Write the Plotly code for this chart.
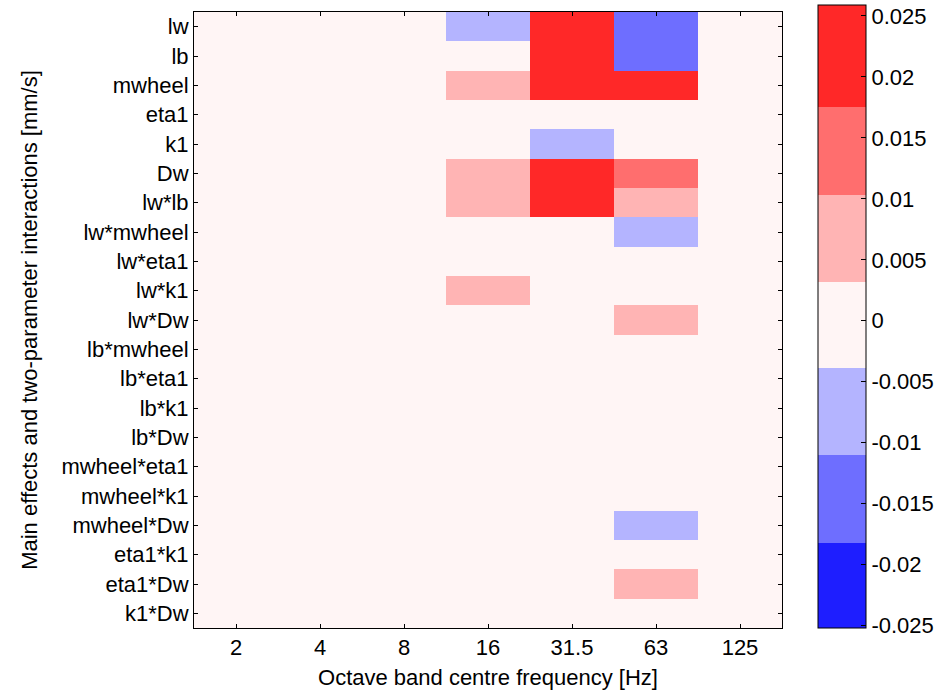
import plotly.graph_objects as go

freqs = ["2", "4", "8", "16", "31.5", "63", "125"]
params = ["lw", "lb", "mwheel", "eta1", "k1", "Dw", "lw*lb", "lw*mwheel", "lw*eta1",
          "lw*k1", "lw*Dw", "lb*mwheel", "lb*eta1", "lb*k1", "lb*Dw", "mwheel*eta1",
          "mwheel*k1", "mwheel*Dw", "eta1*k1", "eta1*Dw", "k1*Dw"]

# values [mm/s], rows = params, columns = freqs
values = [
    [0, 0, 0, -0.007, 0.021, -0.014, 0],   # lw
    [0, 0, 0, 0, 0.021, -0.014, 0],        # lb
    [0, 0, 0, 0.007, 0.021, 0.021, 0],     # mwheel
    [0, 0, 0, 0, 0, 0, 0],                 # eta1
    [0, 0, 0, 0, -0.007, 0, 0],            # k1
    [0, 0, 0, 0.007, 0.021, 0.014, 0],     # Dw
    [0, 0, 0, 0.007, 0.021, 0.007, 0],     # lw*lb
    [0, 0, 0, 0, 0, -0.007, 0],            # lw*mwheel
    [0, 0, 0, 0, 0, 0, 0],                 # lw*eta1
    [0, 0, 0, 0.007, 0, 0, 0],             # lw*k1
    [0, 0, 0, 0, 0, 0.007, 0],             # lw*Dw
    [0, 0, 0, 0, 0, 0, 0],                 # lb*mwheel
    [0, 0, 0, 0, 0, 0, 0],                 # lb*eta1
    [0, 0, 0, 0, 0, 0, 0],                 # lb*k1
    [0, 0, 0, 0, 0, 0, 0],                 # lb*Dw
    [0, 0, 0, 0, 0, 0, 0],                 # mwheel*eta1
    [0, 0, 0, 0, 0, 0, 0],                 # mwheel*k1
    [0, 0, 0, 0, 0, -0.007, 0],            # mwheel*Dw
    [0, 0, 0, 0, 0, 0, 0],                 # eta1*k1
    [0, 0, 0, 0, 0, 0.007, 0],             # eta1*Dw
    [0, 0, 0, 0, 0, 0, 0],                 # k1*Dw
]

level_colors = ["#1e1eff", "#6e6eff", "#b4b4ff", "#fff5f5", "#ffb4b4", "#ff6e6e", "#ff2828"]
level_edges = [-0.0182, -0.0110, -0.0039, 0.0032, 0.0103, 0.0175]
cbar_ticks = [-0.025, -0.02, -0.015, -0.01, -0.005, 0, 0.005, 0.01, 0.015, 0.02, 0.025]
cbar_ticktext = ["-0.025", "-0.02", "-0.015", "-0.01", "-0.005", "0", "0.005", "0.01", "0.015", "0.02", "0.025"]

zmin, zmax = -0.0252, 0.0259
bounds = [0.0] + [(e - zmin) / (zmax - zmin) for e in level_edges] + [1.0]
colorscale = []
for i, c in enumerate(level_colors):
    colorscale.append([bounds[i], c])
    colorscale.append([bounds[i + 1], c])

font = "Liberation Sans, Arial, sans-serif"
fs = 22
W, H = 944, 692

fig = go.Figure(go.Heatmap(
    x=freqs, y=params, z=values,
    zmin=zmin, zmax=zmax,
    colorscale=colorscale,
    xgap=0, ygap=0,
    colorbar=dict(
        tickvals=cbar_ticks, ticktext=cbar_ticktext,
        ticks="inside", ticklen=5, tickcolor="black",
        outlinecolor="black", outlinewidth=1,
        thickness=48, thicknessmode="pixels",
        len=623, lenmode="pixels",
        x=818 / W, xref="container", xanchor="left", xpad=0,
        y=0, yref="paper", yanchor="bottom", ypad=0,
        ticklabelposition="outside",
        ticklabeloverflow="allow",
        tickfont=dict(family=font, size=fs, color="black"),
    ),
))

fig.update_xaxes(
    type="category", automargin=False,
    showline=True, linecolor="black", linewidth=1, mirror="ticks",
    ticks="inside", ticklen=4, tickcolor="black",
    tickfont=dict(family=font, size=fs, color="black"),
    title=dict(text="Octave band centre frequency [Hz]", standoff=10,
               font=dict(family=font, size=fs, color="black")),
    showgrid=False, zeroline=False,
)
fig.update_yaxes(
    type="category", autorange="reversed", automargin=False,
    showline=True, linecolor="black", linewidth=1, mirror="ticks",
    ticks="inside", ticklen=4, tickcolor="black",
    tickfont=dict(family=font, size=fs, color="black"),
    title=dict(text="Main effects and two-parameter interactions [mm/s]", standoff=17,
               font=dict(family=font, size=fs, color="black")),
    showgrid=False, zeroline=False,
)

fig.update_layout(
    width=W, height=H,
    margin=dict(l=194, r=162, t=12, b=64),
    paper_bgcolor="white", plot_bgcolor="white",
)

fig.write_html("out.html", config={"displayModeBar": False},
               post_script="document.body.style.margin='0';")
